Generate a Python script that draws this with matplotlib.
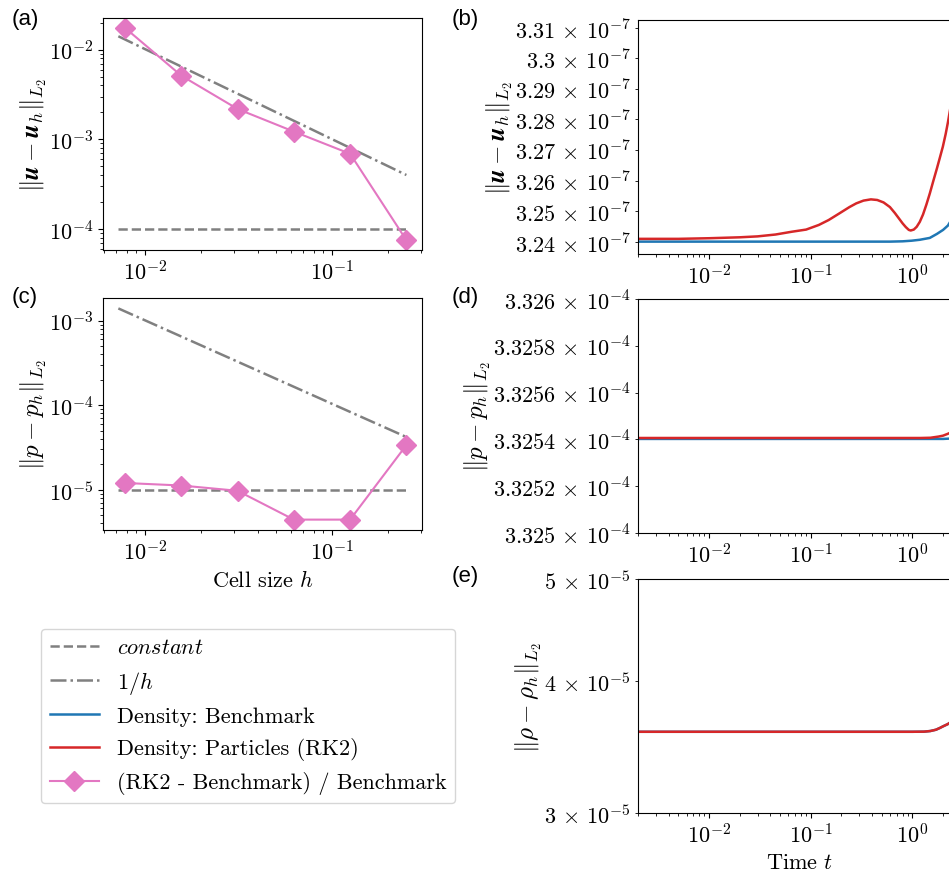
import math
import matplotlib
matplotlib.use('Agg')
import matplotlib.pyplot as plt
from matplotlib.lines import Line2D
from matplotlib.ticker import FuncFormatter

plt.rcParams.update({
    'font.family': 'serif',
    'font.serif': ['cmr10'],
    'mathtext.fontset': 'cm',
    'axes.formatter.use_mathtext': True,
    'font.size': 16,
    'xtick.labelsize': 16,
    'ytick.labelsize': 16,
    'axes.labelsize': 16,
    'legend.fontsize': 16,
    'axes.unicode_minus': True,
})

# ---------------- data ----------------
# convergence in cell size h
cell_h = [1/128, 1/64, 1/32, 1/16, 1/8, 1/4]
err_u_ratio = [0.0175, 0.00513, 0.00218, 0.00122, 0.00069, 7.5e-5]
err_p_ratio = [1.2e-5, 1.12e-5, 9.7e-6, 4.42e-6, 4.42e-6, 3.37e-5]

ref_h = [0.0072, 0.25]
const_u = [1e-4, 1e-4]
inv_h_u = [0.0141, 4.0e-4]
const_p = [1e-5, 1e-5]
inv_h_p = [1.40e-3, 4.2e-5]

# time histories
t_red_u = [0.002, 0.005, 0.01, 0.02, 0.03, 0.045, 0.065, 0.09, 0.12, 0.15,
           0.19, 0.24, 0.28, 0.33, 0.39, 0.45, 0.52, 0.6, 0.67, 0.74, 0.8,
           0.86, 0.92, 0.96, 1.03, 1.1, 1.18, 1.27, 1.37, 1.48, 1.6, 1.74,
           1.86, 1.99, 2.12, 2.23, 2.6, 3.0]
u_red = [3.2411, 3.2411, 3.2413, 3.2416, 3.2419, 3.2425, 3.2434, 3.2441,
         3.2456, 3.2472, 3.2493, 3.2514, 3.2526, 3.2535, 3.2539, 3.2537,
         3.2529, 3.2514, 3.2495, 3.2476, 3.2461, 3.2449, 3.2440, 3.2438,
         3.2441, 3.2450, 3.2466, 3.2490, 3.2522, 3.2558, 3.2598, 3.2640,
         3.2675, 3.2711, 3.2752, 3.2790, 3.2920, 3.3050]  # x 1e-7
t_blue_u = [0.002, 0.1, 0.4, 0.6, 0.8, 0.98, 1.18, 1.48, 1.74, 2.0, 2.23, 2.6, 3.0]
u_blue = [3.2402, 3.2402, 3.2402, 3.2402, 3.2403, 3.2405, 3.2408, 3.2414,
          3.2427, 3.2440, 3.2454, 3.2490, 3.2540]  # x 1e-7

t_red_p = [0.002, 0.1, 1.2, 1.5, 1.8, 2.0, 2.23, 3.0]
p_red = [3.325406, 3.325406, 3.325406, 3.325407, 3.325412, 3.325416, 3.325424, 3.32545]  # x 1e-4
t_blue_p = [0.002, 0.1, 1.2, 2.0, 2.23, 3.0]
p_blue = [3.325402, 3.325402, 3.325402, 3.325402, 3.325403, 3.325406]  # x 1e-4

t_rho = [0.002, 1.0, 1.3, 1.5, 1.7, 1.86, 2.0, 2.23, 2.6, 3.0]
rho_red = [3.582, 3.582, 3.583, 3.588, 3.598, 3.612, 3.625, 3.643, 3.68, 3.72]  # x 1e-5
rho_blue = [3.582, 3.582, 3.583, 3.588, 3.598, 3.612, 3.625, 3.643, 3.68, 3.72]  # x 1e-5

# ---------------- figure ----------------
W, H = 949, 870
fig = plt.figure(figsize=(W / 100, H / 100), dpi=100)


def ax_at(l, t, r, b):
    return fig.add_axes([l / W, 1 - b / H, (r - l) / W, (b - t) / H])


axA = ax_at(103, 19, 422, 251)
axC = ax_at(103, 299, 422, 531)
axB = ax_at(638, 21, 961, 255)
axD = ax_at(638, 300, 961, 534)
axE = ax_at(638, 580, 961, 814)

GRAY = 'gray'
PINK = '#e377c2'
RED = '#d62728'
BLUE = '#1f77b4'
YLAB = 18
LP = 0

for ax, cst, inv, err in [(axA, const_u, inv_h_u, err_u_ratio),
                          (axC, const_p, inv_h_p, err_p_ratio)]:
    ax.plot(ref_h, cst, '--', color=GRAY, lw=1.8)
    ax.plot(ref_h, inv, '-.', color=GRAY, lw=1.8)
    ax.plot(cell_h, err, '-', color=PINK, lw=1.5, marker='D', ms=10)
    ax.set_xscale('log')
    ax.set_yscale('log')
    ax.set_xlim(0.00596, 0.303)

axA.set_ylim(5.83e-5, 0.02254)
axC.set_ylim(3.33e-6, 1.86e-3)
axA.set_ylabel(r'$\|\mathbfit{u}-\mathbfit{u}_h\|_{L_2}$', fontsize=YLAB, labelpad=LP)
axC.set_ylabel(r'$\|p-p_h\|_{L_2}$', fontsize=YLAB, labelpad=LP)
axC.set_xlabel(r'Cell size $h$')

axB.plot(t_blue_u, [v * 1e-7 for v in u_blue], color=BLUE, lw=1.8)
axB.plot(t_red_u, [v * 1e-7 for v in u_red], color=RED, lw=1.8)
axB.set_ylim(3.2362e-7, 3.3127e-7)
axB.set_ylabel(r'$\|\mathbfit{u}-\mathbfit{u}_h\|_{L_2}$', fontsize=YLAB, labelpad=LP)

axD.plot(t_blue_p, [v * 1e-4 for v in p_blue], color=BLUE, lw=1.8)
axD.plot(t_red_p, [v * 1e-4 for v in p_red], color=RED, lw=1.8)
axD.set_ylim(3.325e-4, 3.326e-4)
axD.set_ylabel(r'$\|p-p_h\|_{L_2}$', fontsize=YLAB, labelpad=LP)

axE.plot(t_rho, [v * 1e-5 for v in rho_blue], color=BLUE, lw=1.8)
axE.plot(t_rho, [v * 1e-5 for v in rho_red], color=RED, lw=1.8)
axE.set_ylim(3e-5, 5e-5)
axE.set_ylabel(r'$\|\rho-\rho_h\|_{L_2}$', fontsize=YLAB, labelpad=LP)
axE.set_xlabel(r'Time $t$')


def sci_fmt(x, pos):
    if x <= 0:
        return ''
    e = int(math.floor(math.log10(x) + 1e-9))
    c = x / 10 ** e
    cs = '%g' % float('%.6g' % c)
    return r'$%s\,\times\,10^{%d}$' % (cs, e)


for ax in (axB, axD, axE):
    ax.set_xscale('log')
    ax.set_yscale('log')
    ax.set_xlim(0.002, 3.0)
    ax.yaxis.set_minor_formatter(FuncFormatter(sci_fmt))
    ax.yaxis.set_major_formatter(FuncFormatter(sci_fmt))

# panel labels
for lab, x, y in [('(a)', 12, 19), ('(b)', 452, 19), ('(c)', 12, 297),
                  ('(d)', 452, 297), ('(e)', 452, 577)]:
    fig.text(x / W, 1 - y / H, lab, family='Liberation Sans', fontsize=16,
             va='center', ha='left')

handles = [
    Line2D([], [], ls='--', color=GRAY, lw=1.8),
    Line2D([], [], ls='-.', color=GRAY, lw=1.8),
    Line2D([], [], color=BLUE, lw=1.8),
    Line2D([], [], color=RED, lw=1.8),
    Line2D([], [], color=PINK, lw=1.5, marker='D', ms=10),
]
labels = [r'$constant$', r'$1/h$', 'Density: Benchmark',
          'Density: Particles (RK2)', '(RK2 - Benchmark) / Benchmark']
fig.legend(handles, labels, loc='upper left',
           bbox_to_anchor=(41 / W, 1 - 630 / H), borderaxespad=0,
           handlelength=2.2)

fig.savefig('out.png', dpi=100)
